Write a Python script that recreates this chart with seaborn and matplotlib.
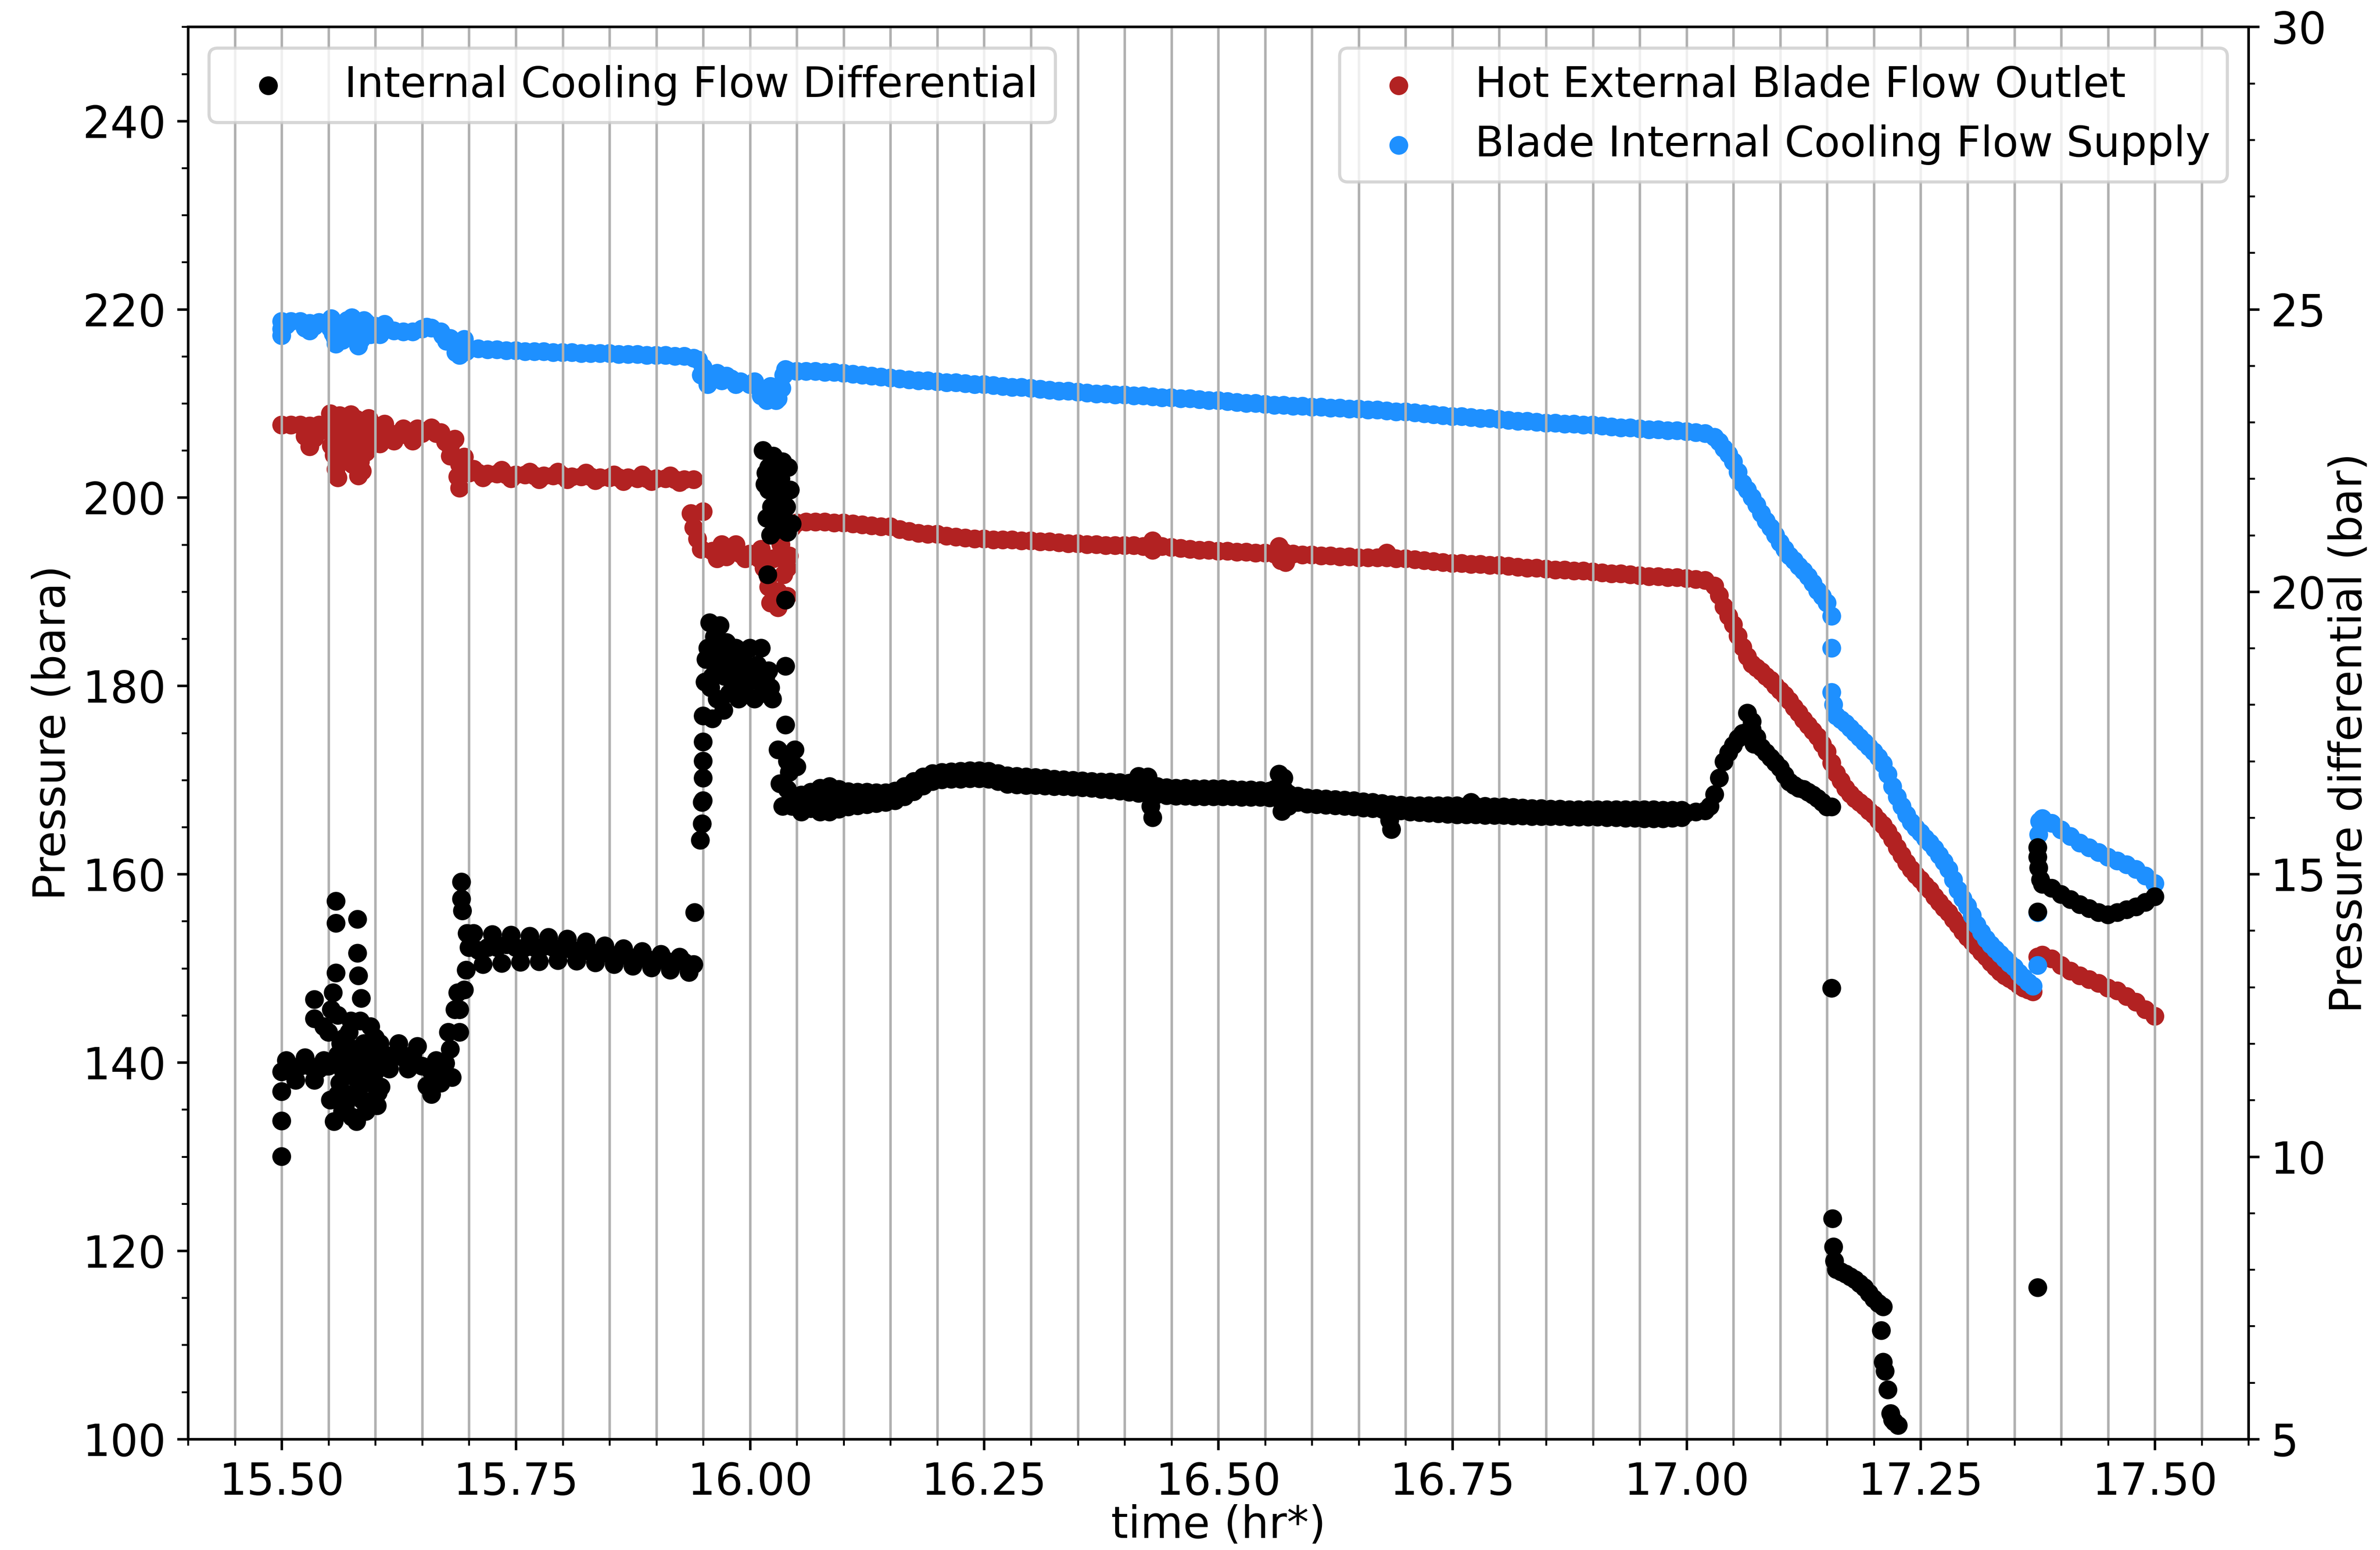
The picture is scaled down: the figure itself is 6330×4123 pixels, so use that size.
import numpy as np
import pandas as pd
import matplotlib
matplotlib.use('Agg')
import matplotlib.pyplot as plt
from matplotlib.ticker import MultipleLocator, FormatStrFormatter
import seaborn as sns

# sample times (hr*), one logged reading every 0.01 hr
time_hr = [
    15.50, 15.51, 15.52, 15.53, 15.54, 15.55, 15.56, 15.57, 15.58, 15.59,
    15.60, 15.61, 15.62, 15.63, 15.64, 15.65, 15.66, 15.67, 15.68, 15.69,
    15.70, 15.71, 15.72, 15.73, 15.74, 15.75, 15.76, 15.77, 15.78, 15.79,
    15.80, 15.81, 15.82, 15.83, 15.84, 15.85, 15.86, 15.87, 15.88, 15.89,
    15.90, 15.91, 15.92, 15.93, 15.94, 15.95, 15.96, 15.97, 15.98, 15.99,
    16.00, 16.01, 16.02, 16.03, 16.04, 16.05, 16.06, 16.07, 16.08, 16.09,
    16.10, 16.11, 16.12, 16.13, 16.14, 16.15, 16.16, 16.17, 16.18, 16.19,
    16.20, 16.21, 16.22, 16.23, 16.24, 16.25, 16.26, 16.27, 16.28, 16.29,
    16.30, 16.31, 16.32, 16.33, 16.34, 16.35, 16.36, 16.37, 16.38, 16.39,
    16.40, 16.41, 16.42, 16.43, 16.44, 16.45, 16.46, 16.47, 16.48, 16.49,
    16.50, 16.51, 16.52, 16.53, 16.54, 16.55, 16.56, 16.57, 16.58, 16.59,
    16.60, 16.61, 16.62, 16.63, 16.64, 16.65, 16.66, 16.67, 16.68, 16.69,
    16.70, 16.71, 16.72, 16.73, 16.74, 16.75, 16.76, 16.77, 16.78, 16.79,
    16.80, 16.81, 16.82, 16.83, 16.84, 16.85, 16.86, 16.87, 16.88, 16.89,
    16.90, 16.91, 16.92, 16.93, 16.94, 16.95, 16.96, 16.97, 16.98, 16.99,
    17.00, 17.01, 17.02, 17.03, 17.04, 17.05, 17.06, 17.07, 17.08, 17.09,
    17.10, 17.11, 17.12, 17.13, 17.14, 17.15, 17.16, 17.17, 17.18, 17.19,
    17.20, 17.21, 17.22, 17.23, 17.24, 17.25, 17.26, 17.27, 17.28, 17.29,
    17.30, 17.31, 17.32, 17.33, 17.34, 17.35, 17.36, 17.37, 17.38, 17.39,
    17.40, 17.41, 17.42, 17.43, 17.44, 17.45, 17.46, 17.47, 17.48, 17.49,
    17.50,
]

# blade internal cooling flow supply (bara)
supply_bara = [
    218.7, 218.7, 218.7, 218.5, 218.6, 218.6, 217.8, 218.8, 217.5, 218.6,
    218.2, 217.8, 217.7, 217.6, 217.6, 217.9, 218.0, 217.6, 216.9, 216.0,
    215.8, 215.8, 215.7, 215.7, 215.6, 215.6, 215.5, 215.5, 215.5, 215.4,
    215.4, 215.4, 215.3, 215.3, 215.3, 215.3, 215.2, 215.2, 215.2, 215.1,
    215.1, 215.1, 215.0, 215.0, 214.8, 213.8, 212.5, 212.4, 212.6, 212.3,
    212.0, 211.6, 211.0, 210.5, 213.5, 213.4, 213.4, 213.4, 213.3, 213.3,
    213.2, 213.1, 213.0, 212.9, 212.8, 212.7, 212.6, 212.5, 212.4, 212.4,
    212.3, 212.2, 212.2, 212.1, 212.0, 212.0, 211.9, 211.8, 211.7, 211.7,
    211.6, 211.5, 211.4, 211.3, 211.3, 211.2, 211.1, 211.0, 211.0, 210.9,
    210.9, 210.8, 210.8, 210.7, 210.6, 210.6, 210.5, 210.5, 210.4, 210.3,
    210.3, 210.2, 210.1, 210.0, 210.0, 209.9, 209.8, 209.8, 209.7, 209.7,
    209.6, 209.6, 209.5, 209.5, 209.4, 209.4, 209.3, 209.3, 209.2, 209.1,
    209.1, 209.0, 208.9, 208.8, 208.7, 208.6, 208.6, 208.5, 208.4, 208.4,
    208.3, 208.2, 208.1, 208.1, 208.0, 207.9, 207.9, 207.8, 207.8, 207.7,
    207.7, 207.6, 207.5, 207.4, 207.4, 207.3, 207.2, 207.2, 207.1, 207.1,
    207.0, 206.9, 206.8, 206.4, 205.2, 203.8, 201.5, 200.0, 198.3, 196.8,
    195.2, 193.8, 192.7, 191.6, 190.1, 188.8, 176.8, 176.0, 175.0, 174.0,
    173.0, 171.7, 169.3, 167.2, 165.5, 164.4, 163.3, 162.0, 160.5, 158.3,
    156.6, 154.6, 153.1, 152.0, 151.0, 150.1, 149.0, 148.1, 165.9, 165.4,
    164.7, 164.0, 163.3, 162.8, 162.3, 161.8, 161.4, 161.0, 160.5, 159.8,
    159.0,
]

# hot external blade flow outlet (bara)
outlet_bara = [
    207.7, 207.7, 207.7, 207.6, 207.7, 208.0, 205.5, 207.0, 205.5, 207.5,
    207.4, 207.0, 206.7, 206.7, 206.6, 206.8, 207.4, 206.9, 205.4, 203.5,
    202.6, 202.6, 202.5, 202.5, 202.4, 202.4, 202.4, 202.3, 202.3, 202.3,
    202.3, 202.2, 202.2, 202.2, 202.1, 202.1, 202.1, 202.1, 202.0, 202.0,
    202.0, 202.0, 201.9, 201.9, 201.9, 198.5, 194.3, 195.0, 194.5, 194.0,
    194.0, 193.5, 191.5, 190.0, 192.5, 197.3, 197.4, 197.4, 197.4, 197.3,
    197.3, 197.2, 197.1, 197.0, 196.9, 196.9, 196.6, 196.4, 196.2, 196.1,
    196.1, 195.9, 195.8, 195.7, 195.6, 195.6, 195.5, 195.5, 195.5, 195.4,
    195.4, 195.3, 195.3, 195.2, 195.1, 195.1, 195.0, 195.0, 194.9, 194.9,
    194.9, 194.9, 194.8, 195.4, 194.8, 194.7, 194.6, 194.5, 194.4, 194.4,
    194.3, 194.3, 194.2, 194.2, 194.1, 194.1, 194.0, 194.2, 194.0, 193.9,
    193.9, 193.8, 193.8, 193.7, 193.7, 193.6, 193.6, 193.6, 194.1, 193.5,
    193.5, 193.4, 193.3, 193.2, 193.1, 193.0, 193.0, 192.9, 192.9, 192.8,
    192.8, 192.7, 192.6, 192.5, 192.5, 192.4, 192.3, 192.3, 192.2, 192.2,
    192.1, 192.0, 191.9, 191.9, 191.8, 191.7, 191.6, 191.6, 191.5, 191.5,
    191.4, 191.3, 191.2, 190.6, 188.4, 186.5, 184.1, 182.3, 181.5, 180.6,
    179.5, 178.4, 177.1, 175.8, 174.6, 173.0, 170.7, 169.1, 168.0, 167.2,
    166.3, 165.2, 163.7, 162.0, 160.5, 159.4, 158.3, 157.0, 155.9, 154.6,
    153.3, 152.3, 151.2, 150.1, 149.2, 148.6, 147.9, 147.5, 151.4, 151.0,
    150.3, 149.7, 149.2, 148.8, 148.4, 147.9, 147.6, 147.0, 146.4, 145.6,
    144.9,
]

# internal cooling flow differential (bar), None = no reading
diff_bar = [
    11.5, 11.5, 11.6, 11.6, 11.55, 11.6, 11.8, 11.5, 11.9, 11.6,
    11.7, 11.8, 11.8, 11.75, 11.8, 11.6, 11.5, 11.6, 11.9, 12.6,
    13.7, 13.65, 13.7, 13.7, 13.75, 13.7, 13.7, 13.7, 13.72, 13.7,
    13.68, 13.66, 13.65, 13.62, 13.6, 13.58, 13.56, 13.54, 13.52, 13.5,
    13.48, 13.47, 13.45, 13.44, 13.4, 16.3, 18.5, 18.6, 18.5, 18.6,
    18.5, 18.5, 21.8, 21.5, 16.5, 16.35, 16.3, 16.35, 16.4, 16.3,
    16.32, 16.33, 16.34, 16.35, 16.35, 16.36, 16.42, 16.53, 16.62, 16.68,
    16.73, 16.74, 16.74, 16.76, 16.76, 16.76, 16.72, 16.66, 16.66, 16.65,
    16.65, 16.64, 16.63, 16.62, 16.61, 16.6, 16.59, 16.57, 16.56, 16.56,
    16.55, 16.52, 16.5, 16.47, 16.46, 16.45, 16.45, 16.45, 16.44, 16.44,
    16.44, 16.44, 16.43, 16.43, 16.42, 16.42, 16.5, 16.5, 16.32, 16.3,
    16.29, 16.28, 16.27, 16.25, 16.24, 16.23, 16.22, 16.2, 16.1, 16.17,
    16.16, 16.16, 16.15, 16.15, 16.14, 16.13, 16.13, 16.12, 16.12, 16.11,
    16.11, 16.1, 16.1, 16.09, 16.09, 16.08, 16.08, 16.08, 16.07, 16.07,
    16.07, 16.07, 16.06, 16.06, 16.06, 16.06, 16.05, 16.04, 16.02, 16.05,
    16.08, 16.1, 16.12, 16.41, 16.99, 17.28, 17.49, 17.56, 17.24, 17.06,
    16.88, 16.63, 16.52, 16.45, 16.34, 16.19, 8.0, 7.92, 7.82, 7.68,
    7.48, 7.34, 5.34, None, None, None, None, None, None, None,
    None, None, None, None, None, None, None, None, 14.82, 14.75,
    14.64, 14.55, 14.46, 14.39, 14.32, 14.28, 14.32, 14.37, 14.42, 14.5,
    14.6,
]

# extra readings in the noisy / fast-moving stretches (time, value)
supply_extra = [
    (15.50, 217.9), (15.50, 217.2), (15.505, 218.3), (15.525, 218.0), (15.53, 217.7),
    (15.535, 218.2), (15.552, 218.0), (15.553, 219.0), (15.555, 217.4), (15.557, 217.0),
    (15.558, 216.3), (15.563, 218.2), (15.565, 216.7), (15.568, 217.6), (15.575, 219.1),
    (15.578, 217.2), (15.58, 218.0), (15.582, 216.1), (15.585, 216.8), (15.588, 218.8),
    (15.59, 217.5), (15.595, 217.3), (15.605, 217.3), (15.61, 218.4), (15.655, 218.1),
    (15.672, 217.2), (15.676, 216.6), (15.683, 216.5), (15.686, 215.4), (15.69, 215.1),
    (15.695, 216.8), (15.697, 215.5), (15.945, 214.6), (15.948, 213.0), (15.955, 212.0),
    (15.965, 213.2), (15.975, 212.9), (15.985, 212.0), (16.005, 212.3), (16.012, 210.8),
    (16.018, 210.3), (16.022, 211.8), (16.028, 210.3), (16.034, 211.6), (16.036, 213.0),
    (16.038, 213.6), (17.035, 205.9), (17.045, 204.6), (17.055, 202.7), (17.065, 200.8),
    (17.075, 199.2), (17.085, 197.5), (17.095, 196.0), (17.105, 194.5), (17.115, 193.3),
    (17.125, 192.2), (17.135, 190.9), (17.145, 189.5), (17.155, 187.4), (17.155, 184.0),
    (17.155, 179.3), (17.157, 178.0), (17.165, 176.4), (17.175, 175.5), (17.185, 174.5),
    (17.195, 173.5), (17.205, 172.4), (17.215, 170.6), (17.225, 168.2), (17.235, 166.3),
    (17.245, 164.9), (17.255, 163.8), (17.265, 162.7), (17.275, 161.3), (17.285, 159.4),
    (17.295, 157.4), (17.305, 155.6), (17.315, 153.8), (17.325, 152.5), (17.335, 151.5),
    (17.345, 150.5), (17.355, 149.5), (17.365, 148.5), (17.375, 150.3), (17.375, 155.9),
    (17.376, 164.2), (17.377, 165.6),
]

outlet_extra = [
    (15.525, 206.5), (15.53, 205.4), (15.535, 206.3), (15.54, 207.0), (15.551, 207.5),
    (15.552, 208.9), (15.553, 205.5), (15.555, 206.8), (15.556, 204.5), (15.557, 207.8),
    (15.558, 203.0), (15.559, 205.0), (15.56, 202.1), (15.561, 203.8), (15.562, 208.7),
    (15.563, 206.3), (15.565, 207.4), (15.566, 205.2), (15.567, 204.0), (15.569, 208.2),
    (15.571, 207.0), (15.573, 205.0), (15.574, 208.8), (15.576, 203.5), (15.577, 206.2),
    (15.578, 207.5), (15.58, 208.3), (15.581, 204.6), (15.582, 202.3), (15.583, 205.5),
    (15.584, 203.8), (15.586, 202.8), (15.587, 206.8), (15.589, 207.6), (15.59, 204.8),
    (15.591, 206.0), (15.593, 208.4), (15.594, 205.8), (15.597, 207.8),
    (15.605, 205.7), (15.61, 207.8), (15.62, 206.0), (15.63, 207.3), (15.64, 206.0),
    (15.645, 207.3), (15.665, 206.8), (15.675, 205.9), (15.68, 204.4), (15.685, 206.2),
    (15.688, 202.2), (15.69, 201.0), (15.695, 204.3),
    (15.705, 203.0), (15.715, 202.1), (15.735, 202.9), (15.745, 202.0), (15.765, 202.7),
    (15.775, 201.9), (15.795, 202.7), (15.805, 201.9), (15.825, 202.6), (15.835, 201.8),
    (15.855, 202.4), (15.865, 201.7), (15.885, 202.4), (15.895, 201.7), (15.915, 202.3),
    (15.925, 201.6), (15.937, 198.3), (15.94, 196.8), (15.944, 195.6), (15.948, 194.5),
    (15.965, 193.5), (15.975, 193.7), (15.985, 195.0), (15.995, 193.5), (16.012, 194.5),
    (16.015, 192.5), (16.02, 190.5), (16.022, 188.8), (16.025, 193.5), (16.03, 188.3),
    (16.033, 195.0), (16.036, 191.8), (16.04, 189.5), (16.042, 193.8), (16.045, 196.8),
    (16.43, 194.4), (16.565, 194.8), (16.567, 193.3), (16.572, 193.1), (16.68, 193.6),
    (17.035, 189.6), (17.045, 187.4), (17.055, 185.3), (17.065, 183.1), (17.075, 181.9),
    (17.085, 181.0), (17.095, 180.0), (17.105, 179.0), (17.115, 177.7), (17.125, 176.4),
    (17.135, 175.2), (17.145, 173.8), (17.155, 171.8), (17.165, 169.9), (17.175, 168.5),
    (17.185, 167.6), (17.195, 166.7), (17.205, 165.7), (17.215, 164.5), (17.225, 162.8),
    (17.235, 161.2), (17.245, 159.9), (17.255, 158.8), (17.265, 157.6), (17.275, 156.4),
    (17.285, 155.2), (17.295, 153.9), (17.305, 152.8), (17.315, 151.7), (17.325, 150.6),
    (17.335, 149.6), (17.345, 148.9), (17.355, 148.2), (17.365, 147.7), (17.375, 151.2),
]

diff_extra = [
    (15.50, 10.0), (15.50, 10.63), (15.50, 11.15), (15.505, 11.7), (15.515, 11.35),
    (15.525, 11.75), (15.535, 11.35), (15.535, 12.78), (15.535, 12.44), (15.545, 11.7),
    (15.545, 12.3), (15.548, 11.6), (15.55, 12.2), (15.552, 11.0), (15.553, 12.6),
    (15.555, 12.9), (15.556, 10.62), (15.557, 11.7), (15.558, 14.52), (15.558, 14.13),
    (15.558, 13.25), (15.56, 12.5), (15.56, 11.1), (15.562, 11.3), (15.563, 12.0),
    (15.565, 10.8), (15.566, 11.5), (15.567, 12.1), (15.568, 10.9), (15.57, 11.1),
    (15.571, 11.7), (15.572, 12.2), (15.574, 12.4), (15.575, 10.7), (15.577, 11.9),
    (15.578, 11.4), (15.579, 11.1), (15.58, 10.62), (15.581, 14.2), (15.581, 13.6),
    (15.582, 13.2), (15.583, 11.6), (15.584, 12.4), (15.585, 12.8), (15.586, 11.0),
    (15.587, 11.5), (15.588, 12.0), (15.59, 11.3), (15.59, 10.8), (15.592, 11.8),
    (15.594, 11.4), (15.595, 12.3), (15.597, 12.0), (15.598, 11.0), (15.60, 12.1),
    (15.60, 11.5), (15.602, 10.9), (15.603, 11.13), (15.606, 11.23), (15.605, 12.0),
    (15.615, 11.55), (15.625, 12.0), (15.635, 11.55), (15.645, 11.95), (15.655, 11.25),
    (15.66, 11.1), (15.665, 11.7), (15.67, 11.3), (15.675, 11.65), (15.678, 12.2),
    (15.682, 11.4), (15.685, 12.6), (15.688, 12.9), (15.69, 12.2), (15.692, 14.86),
    (15.692, 14.56), (15.693, 14.35), (15.695, 12.95), (15.697, 13.3), (15.698, 13.95),
    (15.705, 13.95), (15.715, 13.4), (15.725, 13.93), (15.735, 13.42), (15.745, 13.92),
    (15.755, 13.44), (15.765, 13.9), (15.775, 13.45), (15.785, 13.88), (15.795, 13.47),
    (15.805, 13.85), (15.815, 13.46), (15.825, 13.8), (15.835, 13.43), (15.845, 13.73),
    (15.855, 13.4), (15.865, 13.68), (15.875, 13.37), (15.885, 13.63), (15.895, 13.34),
    (15.905, 13.58), (15.915, 13.3), (15.925, 13.53), (15.935, 13.26),
    (15.941, 14.32), (15.947, 15.6), (15.949, 15.89), (15.949, 16.27), (15.95, 16.7),
    (15.95, 17.0), (15.95, 17.34), (15.95, 17.8), (15.952, 18.4), (15.953, 18.8),
    (15.955, 19.0), (15.957, 19.45), (15.958, 18.3), (15.96, 17.75), (15.962, 19.2),
    (15.963, 18.7), (15.965, 18.1), (15.967, 19.0), (15.968, 19.4), (15.97, 18.9),
    (15.972, 17.9), (15.973, 18.5), (15.975, 19.1), (15.977, 18.7), (15.978, 18.2),
    (15.98, 18.8), (15.982, 18.3), (15.985, 19.0), (15.987, 18.6), (15.988, 18.1),
    (15.99, 18.3), (15.992, 18.5), (15.993, 18.95), (15.995, 18.2), (15.997, 18.7),
    (16.00, 19.0), (16.003, 18.5), (16.005, 18.1), (16.008, 18.7), (16.01, 18.4),
    (16.012, 19.0), (16.015, 18.2), (16.017, 18.5), (16.02, 18.6), (16.022, 18.3),
    (16.024, 18.1), (16.014, 22.5), (16.016, 21.9), (16.017, 22.1), (16.018, 21.3),
    (16.02, 22.2), (16.022, 21.0), (16.023, 21.5), (16.025, 22.4), (16.027, 22.2),
    (16.028, 21.6), (16.03, 21.1), (16.031, 21.6), (16.033, 22.0), (16.035, 22.3),
    (16.036, 21.3), (16.038, 21.8), (16.039, 21.5), (16.04, 21.05), (16.041, 22.2),
    (16.043, 21.8), (16.045, 21.2), (16.019, 20.3), (16.038, 19.85), (16.038, 18.68),
    (16.038, 17.64), (16.03, 17.2), (16.032, 16.6), (16.035, 16.2), (16.04, 17.0),
    (16.042, 16.8), (16.045, 16.2), (16.048, 17.2), (16.05, 16.9), (16.055, 16.1),
    (16.415, 16.73), (16.425, 16.72), (16.43, 16.0), (16.428, 16.2), (16.565, 16.77),
    (16.57, 16.7), (16.568, 16.11), (16.575, 16.2), (16.685, 15.79), (16.683, 15.95),
    (16.77, 16.27), (17.025, 16.2), (17.035, 16.7), (17.045, 17.15), (17.055, 17.4),
    (17.065, 17.52), (17.065, 17.85), (17.07, 17.7), (17.072, 17.3), (17.075, 17.42),
    (17.085, 17.15), (17.095, 16.97), (17.105, 16.75), (17.115, 16.57), (17.125, 16.5),
    (17.135, 16.4), (17.145, 16.27), (17.155, 16.19), (17.155, 12.98), (17.156, 8.9),
    (17.157, 8.4), (17.158, 8.15), (17.165, 7.96), (17.175, 7.87), (17.185, 7.75),
    (17.195, 7.58), (17.205, 7.4), (17.208, 6.92), (17.21, 6.36), (17.212, 6.2),
    (17.215, 5.87), (17.218, 5.45), (17.222, 5.3), (17.226, 5.24), (17.375, 15.47),
    (17.375, 15.3), (17.376, 15.11), (17.375, 14.33), (17.375, 7.68), (17.378, 14.9),
]

# upper / lower edge of the differential band after the restart (time, high, low)
diff_band = [
    (16.055, 16.40, 16.14), (16.065, 16.45, 16.16), (16.075, 16.52, 16.10), (16.085, 16.55, 16.10),
    (16.095, 16.50, 16.15), (16.105, 16.46, 16.19), (16.115, 16.45, 16.21), (16.125, 16.45, 16.23),
    (16.135, 16.44, 16.25), (16.145, 16.44, 16.27), (16.155, 16.47, 16.30), (16.165, 16.55, 16.37),
    (16.175, 16.64, 16.46), (16.185, 16.72, 16.56), (16.195, 16.78, 16.64), (16.205, 16.80, 16.67),
    (16.215, 16.81, 16.68), (16.225, 16.82, 16.68), (16.235, 16.83, 16.69), (16.245, 16.83, 16.69),
    (16.255, 16.82, 16.68), (16.265, 16.78, 16.64), (16.275, 16.74, 16.59), (16.285, 16.73, 16.58),
    (16.295, 16.72, 16.57), (16.305, 16.71, 16.57), (16.315, 16.70, 16.56), (16.325, 16.68, 16.55),
    (16.335, 16.67, 16.55), (16.345, 16.66, 16.54), (16.355, 16.65, 16.53), (16.365, 16.64, 16.52),
    (16.375, 16.63, 16.50), (16.385, 16.63, 16.49), (16.395, 16.62, 16.47), (16.405, 16.61, 16.45),
    (16.415, 16.59, 16.43), (16.425, 16.57, 16.42), (16.435, 16.55, 16.41), (16.445, 16.53, 16.39),
    (16.455, 16.52, 16.38), (16.465, 16.52, 16.38), (16.475, 16.51, 16.37), (16.485, 16.51, 16.37),
    (16.495, 16.51, 16.37), (16.505, 16.51, 16.37), (16.515, 16.50, 16.37), (16.525, 16.49, 16.36),
    (16.535, 16.49, 16.36), (16.545, 16.48, 16.36), (16.555, 16.47, 16.35), (16.565, 16.45, 16.33),
    (16.575, 16.42, 16.30), (16.585, 16.38, 16.27), (16.595, 16.35, 16.24), (16.605, 16.34, 16.23),
    (16.615, 16.33, 16.22), (16.625, 16.32, 16.21), (16.635, 16.31, 16.20), (16.645, 16.30, 16.19),
    (16.655, 16.28, 16.17), (16.665, 16.27, 16.16), (16.675, 16.25, 16.15), (16.685, 16.23, 16.13),
    (16.695, 16.22, 16.12), (16.705, 16.21, 16.10), (16.715, 16.21, 16.09), (16.725, 16.21, 16.08),
    (16.735, 16.21, 16.07), (16.745, 16.21, 16.06), (16.755, 16.21, 16.05), (16.765, 16.20, 16.05),
    (16.775, 16.20, 16.05), (16.785, 16.20, 16.04), (16.795, 16.19, 16.04), (16.805, 16.19, 16.04),
    (16.815, 16.18, 16.03), (16.825, 16.17, 16.03), (16.835, 16.16, 16.02), (16.845, 16.16, 16.02),
    (16.855, 16.15, 16.02), (16.865, 16.15, 16.02), (16.875, 16.14, 16.01), (16.885, 16.14, 16.01),
    (16.895, 16.14, 16.01), (16.905, 16.14, 16.01), (16.915, 16.14, 16.00), (16.925, 16.14, 16.00),
    (16.935, 16.14, 15.99), (16.945, 16.14, 15.99), (16.955, 16.14, 15.98), (16.965, 16.14, 15.98),
    (16.975, 16.13, 15.98), (16.985, 16.13, 15.99), (16.995, 16.13, 16.00),
]


def build(main, extra):
    # join the regular readings with the extra ones, drop missing
    t_all = time_hr + [p[0] for p in extra]
    v_all = list(main) + [p[1] for p in extra]
    df = pd.DataFrame({'time': t_all, 'value': np.array(v_all, dtype=float)})
    return df.dropna()


band_pts = [(b[0], b[1]) for b in diff_band] + [(b[0], b[2]) for b in diff_band]

outlet_df = build(outlet_bara, outlet_extra)
supply_df = build(supply_bara, supply_extra)
diff_df = build(diff_bar, diff_extra + band_pts)

fs = 14
dot = 36

fig, ax1 = plt.subplots(figsize=(6331 / 600, 4123 / 600))
fig.subplots_adjust(left=0.079, right=0.9446, bottom=0.0716, top=0.9827)
ax2 = ax1.twinx()

sns.scatterplot(data=outlet_df, x='time', y='value', color='firebrick', s=dot,
                linewidth=0, edgecolor='none', legend=False,
                label='Hot External Blade Flow Outlet', ax=ax1)
sns.scatterplot(data=supply_df, x='time', y='value', color='dodgerblue', s=dot,
                linewidth=0, edgecolor='none', legend=False,
                label='Blade Internal Cooling Flow Supply', ax=ax1)
sns.scatterplot(data=diff_df, x='time', y='value', color='black', s=dot,
                linewidth=0, edgecolor='none', legend=False,
                label='Internal Cooling Flow Differential', ax=ax2)

ax1.set_xlim(15.4, 17.6)
ax1.set_ylim(100, 250)
ax2.set_ylim(5, 30)

ax1.xaxis.set_major_locator(MultipleLocator(0.25))
ax1.xaxis.set_minor_locator(MultipleLocator(0.05))
ax1.xaxis.set_major_formatter(FormatStrFormatter('%.2f'))
ax1.yaxis.set_major_locator(MultipleLocator(20))
ax1.yaxis.set_minor_locator(MultipleLocator(5))
ax2.yaxis.set_major_locator(MultipleLocator(5))
ax2.yaxis.set_minor_locator(MultipleLocator(1))

ax1.grid(True, axis='x', which='both', color='#b0b0b0', linewidth=0.8)

ax1.set_xlabel('time (hr*)', fontsize=fs, labelpad=0)
ax1.set_ylabel('Pressure (bara)', fontsize=fs, labelpad=2.5)
ax2.set_ylabel('Pressure differential (bar)', fontsize=fs, labelpad=0.5)
ax1.tick_params(labelsize=fs)
ax2.tick_params(labelsize=fs)

ax1.legend(loc='upper right', fontsize=13.5, scatterpoints=1, labelspacing=0.45)
ax2.legend(loc='upper left', fontsize=13.5, scatterpoints=1, labelspacing=0.45)

fig.savefig('out.png', dpi=600)
